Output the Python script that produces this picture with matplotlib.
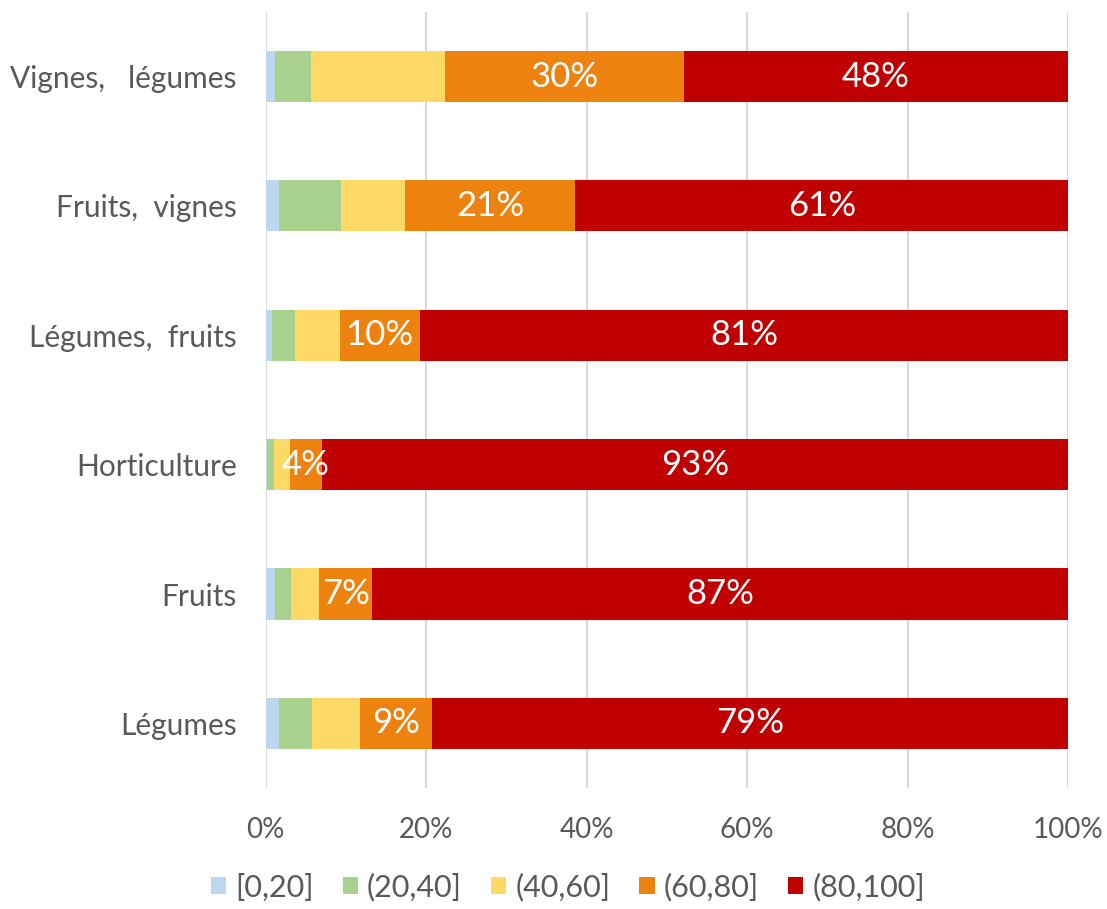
import matplotlib.pyplot as plt
import numpy as np

plt.rcParams['font.family'] = ['Lato', 'DejaVu Sans']

categories = ["Légumes", "Fruits", "Horticulture", "Légumes,  fruits",
              "Fruits,  vignes", "Vignes,   légumes"]
series_names = ["[0,20]", "(20,40]", "(40,60]", "(60,80]", "(80,100]"]
colors = ["#BDD7EE", "#A9D18E", "#FFD966", "#EE820F", "#C00000"]

# shares (%) per class, one list per series, ordered like categories
s0_20 = [1.6, 1.1, 0.2, 0.8, 1.7, 1.1]
s20_40 = [4.2, 2.0, 0.8, 2.9, 7.7, 4.6]
s40_60 = [6.0, 3.6, 2.0, 5.5, 8.0, 16.6]
s60_80 = [8.9, 6.6, 4.0, 10.0, 21.2, 29.8]
s80_100 = [79.3, 86.7, 93.0, 80.8, 61.4, 47.9]
series = [s0_20, s20_40, s40_60, s60_80, s80_100]
labelled = [False, False, False, True, True]

fig = plt.figure(figsize=(11.07, 9.09), dpi=100)
ax = fig.add_axes([0.240, 0.133, 0.725, 0.854])

y = np.arange(len(categories))
left = np.zeros(len(categories))
for name, vals, col, lab in zip(series_names, series, colors, labelled):
    vals = np.array(vals)
    ax.barh(y, vals, left=left, height=0.395, color=col, label=name, zorder=3)
    if lab:
        for yi, l, v in zip(y, left, vals):
            ax.text(l + v / 2, yi, f"{round(v)}%", ha='center', va='center',
                    color='white', fontsize=25, zorder=4)
    left += vals

ax.set_xlim(0, 100)
ax.set_ylim(-0.5, len(categories) - 0.5)
ax.set_xticks(np.arange(0, 101, 20))
ax.set_xticklabels([f"{t}%" for t in range(0, 101, 20)])
ax.set_yticks(y)
ax.set_yticklabels(categories)
ax.tick_params(axis='y', length=0, labelsize=21.5, labelcolor='#595959', pad=21)
ax.tick_params(axis='x', length=0, labelsize=20, labelcolor='#595959', pad=21)
ax.grid(axis='x', color='#D9D9D9', linewidth=1.5, zorder=0)
for s in ax.spines.values():
    s.set_visible(False)

leg = fig.legend(loc='center', bbox_to_anchor=(0.513, 0.024), ncol=5, frameon=False,
                 fontsize=22, handlelength=0.5, handleheight=0.5, handletextpad=0.3,
                 columnspacing=0.95)
for t in leg.get_texts():
    t.set_color('#595959')

fig.savefig("out.png", dpi=100)
